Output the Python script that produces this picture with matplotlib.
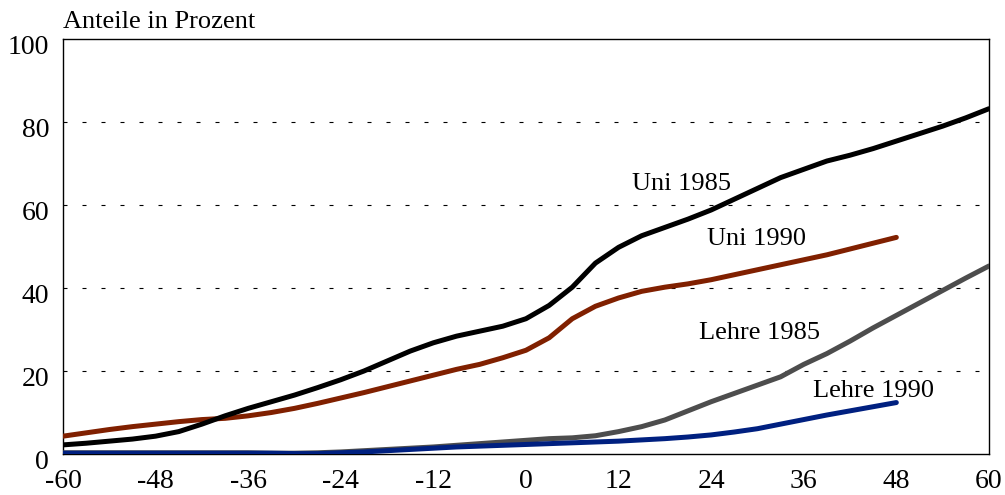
import numpy as np
import matplotlib
matplotlib.use("Agg")
import matplotlib.pyplot as plt
import matplotlib.transforms as mtransforms

# --- data (months relative to event, share in percent) ---
months_long = list(range(-60, 61, 3))
months_short = list(range(-60, 49, 3))

uni_1985 = [2.2, 2.6, 3.1, 3.6, 4.3, 5.4, 7.2, 9.2, 11.0, 12.6,
            14.2, 16.0, 17.9, 20.0, 22.4, 24.8, 26.8, 28.4, 29.6, 30.8,
            32.6, 35.8, 40.2, 46.0, 49.8, 52.6, 54.6, 56.6, 58.8, 61.4,
            64.0, 66.6, 68.6, 70.6, 72.0, 73.6, 75.4, 77.2, 79.0, 81.0,
            83.2]
uni_1990 = [4.3, 5.1, 5.9, 6.6, 7.2, 7.8, 8.3, 8.6, 9.2, 10.0,
            11.0, 12.2, 13.5, 14.8, 16.2, 17.6, 19.0, 20.4, 21.6, 23.2,
            25.0, 28.0, 32.6, 35.6, 37.6, 39.2, 40.2, 41.0, 42.0, 43.2,
            44.4, 45.6, 46.8, 48.0, 49.4, 50.8, 52.2]
lehre_1985 = [0.3, 0.3, 0.3, 0.3, 0.3, 0.3, 0.3, 0.3, 0.3, 0.2,
              0.2, 0.3, 0.5, 0.8, 1.1, 1.4, 1.7, 2.1, 2.5, 2.9,
              3.3, 3.7, 3.9, 4.4, 5.4, 6.6, 8.2, 10.4, 12.6, 14.6,
              16.6, 18.6, 21.6, 24.2, 27.2, 30.4, 33.4, 36.4, 39.4, 42.4,
              45.3]
lehre_1990 = [0.2, 0.2, 0.2, 0.2, 0.2, 0.2, 0.2, 0.2, 0.2, 0.2,
              0.1, 0.1, 0.3, 0.5, 0.8, 1.1, 1.4, 1.7, 1.9, 2.1,
              2.3, 2.5, 2.7, 2.9, 3.1, 3.4, 3.7, 4.1, 4.6, 5.3,
              6.1, 7.2, 8.3, 9.4, 10.4, 11.4, 12.4]

x_ticks = list(range(-60, 61, 12))
y_ticks = [0, 20, 40, 60, 80, 100]

plt.rcParams["font.family"] = ["Liberation Serif", "DejaVu Serif"]
plt.rcParams["axes.unicode_minus"] = False

fig = plt.figure(figsize=(10.05, 4.95), dpi=100)
ax = fig.add_axes([0.0627, 0.0828, 0.9213, 0.8384])

# dashed horizontal grid
for yv in y_ticks[1:-1]:
    ax.axhline(yv, color="black", lw=0.8, ls=(0, (3.6, 13.5)), zorder=1)

line_kw = dict(lw=3.6, solid_joinstyle="round", solid_capstyle="round")
ax.plot(months_long, lehre_1985, color="#4d4d4d", zorder=3, **line_kw)
ax.plot(months_short, lehre_1990, color="#002080", zorder=4, **line_kw)
ax.plot(months_short, uni_1990, color="#802000", zorder=3, **line_kw)
ax.plot(months_long, uni_1985, color="black", zorder=5, **line_kw)

fs = 19
ax.text(20.2, 65, "Uni 1985", fontsize=fs, ha="center", va="center")
ax.text(29.9, 51.7, "Uni 1990", fontsize=fs, ha="center", va="center")
ax.text(30.3, 29.2, "Lehre 1985", fontsize=fs, ha="center", va="center")
ax.text(45.1, 15.2, "Lehre 1990", fontsize=fs, ha="center", va="center")

ax.set_xlim(-60, 60)
ax.set_ylim(0, 100)
ax.set_xticks(x_ticks)
ax.set_yticks(y_ticks)
ax.tick_params(length=0, labelsize=20)
ax.tick_params(axis="x", pad=11)
ax.tick_params(axis="y", pad=10)
for s in ax.spines.values():
    s.set_linewidth(1.0)

# y labels sit a little below their gridline in the original
shift = mtransforms.ScaledTranslation(0, -5 / 100, fig.dpi_scale_trans)
for lab in ax.get_yticklabels():
    lab.set_transform(lab.get_transform() + shift)

fig.text(0.063, 1 - 22 / 495, "Anteile in Prozent", fontsize=fs,
         ha="left", va="center")

fig.savefig("out.png", dpi=100)
